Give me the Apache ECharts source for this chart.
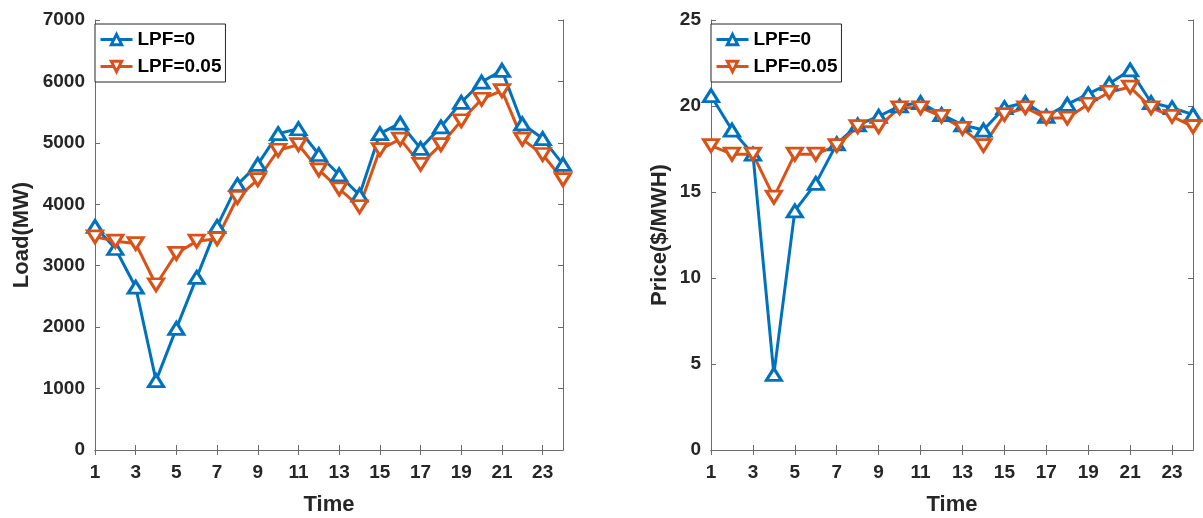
<!DOCTYPE html>
<html>
<head>
<meta charset="utf-8">
<script src="https://cdn.jsdelivr.net/npm/echarts@6/dist/echarts.min.js"></script>
<style>
  html, body { margin: 0; padding: 0; background: #fff; }
  #chart { width: 1203px; height: 518px; }
</style>
</head>
<body>
<div id="chart"></div>
<script>
// Hourly time steps
const hours = ['1','2','3','4','5','6','7','8','9','10','11','12','13','14','15','16','17','18','19','20','21','22','23','24'];

// Load (MW) for each LPF setting
const loadLPF0   = [3640, 3280, 2650, 1130, 1980, 2810, 3640, 4320, 4650, 5150, 5230, 4810, 4480, 4150, 5150, 5320, 4910, 5260, 5660, 5990, 6180, 5310, 5070, 4650];
const loadLPF005 = [3470, 3400, 3360, 2690, 3200, 3400, 3440, 4110, 4400, 4880, 4970, 4560, 4250, 3960, 4890, 5060, 4650, 4970, 5360, 5710, 5850, 5060, 4810, 4400];

// Price ($/MWH) for each LPF setting
const priceLPF0   = [20.6, 18.6, 17.2, 4.4, 13.9, 15.5, 17.8, 18.9, 19.4, 20.0, 20.2, 19.5, 18.9, 18.6, 19.9, 20.2, 19.4, 20.1, 20.7, 21.3, 22.1, 20.2, 19.9, 19.5];
const priceLPF005 = [17.7, 17.2, 17.2, 14.7, 17.2, 17.2, 17.7, 18.8, 18.8, 19.9, 19.9, 19.4, 18.7, 17.7, 19.5, 19.9, 19.3, 19.3, 20.1, 20.8, 21.1, 19.9, 19.4, 18.8];

const seriesNames = ['LPF=0', 'LPF=0.05'];

const BLUE = '#0072BD';
const ORANGE = '#D95319';
const TEXT = '#262626';
const AXIS = '#6b6b6b';
const FONT = '"Liberation Sans", Arial, sans-serif';
const DOWN_TRI = 'path://M0,0L10,0L5,8Z';

function bottomX(gi) {
  return {
    type: 'category', gridIndex: gi, data: hours, boundaryGap: false,
    name: 'Time', nameLocation: 'middle', nameGap: 44,
    nameTextStyle: { fontFamily: FONT, fontWeight: 'bold', fontSize: 22, color: TEXT },
    axisLine: { lineStyle: { color: AXIS, width: 1 } },
    axisTick: { inside: true, length: 5, interval: 1, lineStyle: { color: AXIS } },
    axisLabel: { interval: 1, margin: 13, fontFamily: FONT, fontWeight: 'bold', fontSize: 19, color: TEXT },
    splitLine: { show: false }
  };
}
function topX(gi) {
  return {
    type: 'category', gridIndex: gi, data: hours, boundaryGap: false, position: 'top',
    axisLine: { lineStyle: { color: AXIS, width: 1 } },
    axisTick: { inside: true, length: 5, interval: 1, lineStyle: { color: AXIS } },
    axisLabel: { show: false }, splitLine: { show: false }
  };
}
function leftY(gi, name, max, step, gap) {
  return {
    type: 'value', gridIndex: gi, min: 0, max: max, interval: step,
    name: name, nameLocation: 'middle', nameGap: gap,
    nameTextStyle: { fontFamily: FONT, fontWeight: 'bold', fontSize: 22, color: TEXT },
    axisLine: { show: true, lineStyle: { color: AXIS, width: 1 } },
    axisTick: { show: true, inside: true, length: 5, lineStyle: { color: AXIS } },
    axisLabel: {
      margin: 10, fontFamily: FONT, fontWeight: 'bold', fontSize: 19, color: TEXT,
      formatter: (v) => String(v)
    },
    splitLine: { show: false }
  };
}
function rightY(gi, max, step) {
  return {
    type: 'value', gridIndex: gi, min: 0, max: max, interval: step, position: 'right',
    axisLine: { show: true, lineStyle: { color: AXIS, width: 1 } },
    axisTick: { show: true, inside: true, length: 5, lineStyle: { color: AXIS } },
    axisLabel: { show: false }, splitLine: { show: false }
  };
}
function lineSeries(name, data, color, symbol, xi, yi) {
  return {
    type: 'line', name: name, data: data, xAxisIndex: xi, yAxisIndex: yi,
    color: color,
    symbol: symbol, symbolSize: [15, 12], showAllSymbol: true,
    lineStyle: { color: color, width: 3 },
    itemStyle: { color: '#fff', borderColor: color, borderWidth: 3 },
    z: 3
  };
}
function legendAt(left) {
  return {
    data: seriesNames, orient: 'vertical', left: left, top: 24,
    backgroundColor: '#fff', borderColor: TEXT, borderWidth: 1, borderRadius: 0,
    padding: [6, 4, 6, 4], itemGap: 8, itemWidth: 32, itemHeight: 13,
    lineStyle: { width: 3 },
    itemStyle: { borderWidth: 3 },
    textStyle: { fontFamily: FONT, fontWeight: 'bold', fontSize: 19, color: '#000' },
    selectedMode: false, z: 10
  };
}

const chart = echarts.init(document.getElementById('chart'), null, { renderer: 'canvas' });
chart.setOption({
  animation: false,
  backgroundColor: '#fff',
  grid: [
    { left: 95, right: 640, top: 20, bottom: 68, outerBoundsMode: 'none', containLabel: false },
    { left: 711, right: 10, top: 20, bottom: 68, outerBoundsMode: 'none', containLabel: false }
  ],
  legend: [legendAt(95), legendAt(711)],
  xAxis: [bottomX(0), topX(0), bottomX(1), topX(1)],
  yAxis: [
    leftY(0, 'Load(MW)', 7000, 1000, 62), rightY(0, 7000, 1000),
    leftY(1, 'Price($/MWH)', 25, 5, 40), rightY(1, 25, 5)
  ],
  series: [
    lineSeries(seriesNames[0], loadLPF0, BLUE, 'triangle', 0, 0),
    lineSeries(seriesNames[1], loadLPF005, ORANGE, DOWN_TRI, 0, 0),
    lineSeries(seriesNames[0], priceLPF0, BLUE, 'triangle', 2, 2),
    lineSeries(seriesNames[1], priceLPF005, ORANGE, DOWN_TRI, 2, 2)
  ]
});
</script>
</body>
</html>
